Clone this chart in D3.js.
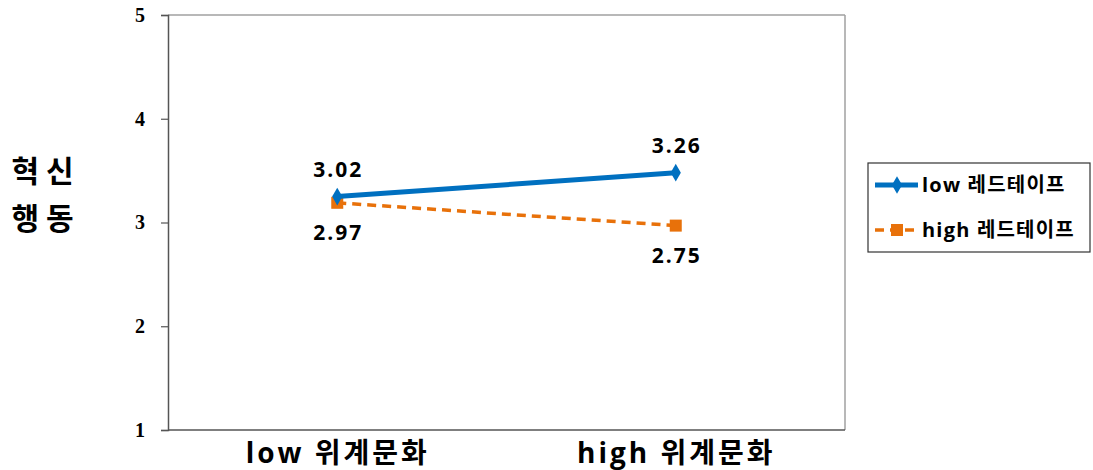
<!DOCTYPE html>
<html><head><meta charset="utf-8">
<script src="https://cdn.jsdelivr.net/npm/d3@7"></script>
<style>body{margin:0;background:#fff}</style>
</head><body><svg id="c" width="1093" height="470"></svg>
<script>
const categories = ["low 위계문화", "high 위계문화"];
const seriesNames = ["low 레드테이프", "high 레드테이프"];
const lowValues = [3.25, 3.48];
const highValues = [3.19, 2.97];
const lowLabels = ["3.02", "3.26"];
const highLabels = ["2.97", "2.75"];
const yTicks = [1, 2, 3, 4, 5];

const svg = d3.select("#c");
const L = 168, R = 845, T = 15, B = 430;
const x = d3.scalePoint().domain(categories).range([L, R]).padding(0.5);
const y = d3.scaleLinear().domain([1, 5]).range([B, T]);
const kfont = "'Open Sans', 'Noto Sans CJK KR', sans-serif";

// frame
svg.append("line").attr("x1", L).attr("x2", R).attr("y1", T).attr("y2", T).attr("stroke", "#a0a0a0").attr("stroke-width", 1.5);
svg.append("line").attr("x1", R).attr("x2", R).attr("y1", T).attr("y2", B).attr("stroke", "#a0a0a0").attr("stroke-width", 1.5);

// y axis
const ya = svg.append("g").attr("transform", `translate(${L},0)`)
  .call(d3.axisLeft(y).tickValues(yTicks).tickSize(7).tickPadding(16).tickFormat(d3.format("d")));
ya.select(".domain").attr("stroke", "#555").attr("stroke-width", 1.5);
ya.selectAll(".tick line").attr("stroke", "#555").attr("stroke-width", 1.2);
ya.selectAll("text").attr("font-family", "'Liberation Serif', serif").attr("font-weight", "bold").attr("font-size", 20).attr("fill", "#000");

// x axis
const xa = svg.append("g").attr("transform", `translate(0,${B})`)
  .call(d3.axisBottom(x).tickSize(0).tickPadding(13));
xa.select(".domain").attr("d", `M${L},0H${R}`).attr("stroke", "#555").attr("stroke-width", 1.5);
xa.selectAll("text").attr("font-family", kfont).attr("font-weight", "bold").attr("font-size", 28).attr("letter-spacing", 3).attr("fill", "#000");

// y title
[["혁신", 182], ["행동", 229]].forEach(([t, yy]) => {
  svg.append("text").attr("x", 46).attr("y", yy).attr("text-anchor", "middle").attr("font-family", kfont)
    .attr("font-weight", "bold").attr("font-size", 30).attr("letter-spacing", 7).text(t);
});

const blue = "#0070C0", orange = "#E8710A";
const line = d3.line().x((d, i) => x(categories[i])).y(d => y(d));

// orange dashed
svg.append("path").datum(highValues).attr("d", line).attr("fill", "none").attr("stroke", orange).attr("stroke-width", 3.5).attr("stroke-dasharray", "9,6");
svg.selectAll(".sq").data(highValues).enter().append("rect")
  .attr("x", (d, i) => x(categories[i]) - 6).attr("y", d => y(d) - 6).attr("width", 12).attr("height", 12).attr("fill", orange);

// blue
svg.append("path").datum(lowValues).attr("d", line).attr("fill", "none").attr("stroke", blue).attr("stroke-width", 5);
svg.selectAll(".dm").data(lowValues).enter().append("path")
  .attr("d", d3.symbol(d3.symbolDiamond, 90)).attr("transform", (d, i) => `translate(${x(categories[i])},${y(d)})`).attr("fill", blue);

// data labels
svg.selectAll(".lb").data(lowValues).enter().append("text")
  .attr("x", (d, i) => x(categories[i]) + 1).attr("y", d => y(d) - 20).attr("text-anchor", "middle")
  .attr("font-family", kfont).attr("font-weight", "bold").attr("font-size", 21).attr("letter-spacing", 2).text((d, i) => lowLabels[i]);
svg.selectAll(".hb").data(highValues).enter().append("text")
  .attr("x", (d, i) => x(categories[i]) + 1).attr("y", d => y(d) + 37).attr("text-anchor", "middle")
  .attr("font-family", kfont).attr("font-weight", "bold").attr("font-size", 21).attr("letter-spacing", 2).text((d, i) => highLabels[i]);

// legend
const lg = svg.append("g");
lg.append("rect").attr("x", 868).attr("y", 163).attr("width", 222).attr("height", 89).attr("fill", "#fff").attr("stroke", "#333").attr("stroke-width", 1.2);
const ly = [185, 230];
lg.append("line").attr("x1", 875).attr("x2", 918).attr("y1", ly[0]).attr("y2", ly[0]).attr("stroke", blue).attr("stroke-width", 5);
lg.append("path").attr("d", d3.symbol(d3.symbolDiamond, 90)).attr("transform", `translate(897,${ly[0]})`).attr("fill", blue);
lg.append("line").attr("x1", 875).attr("x2", 918).attr("y1", ly[1]).attr("y2", ly[1]).attr("stroke", orange).attr("stroke-width", 3.5).attr("stroke-dasharray", "9,6");
lg.append("rect").attr("x", 891).attr("y", ly[1] - 6).attr("width", 12).attr("height", 12).attr("fill", orange);
seriesNames.forEach((s, i) => {
  lg.append("text").attr("x", 922).attr("y", ly[i] + 7).attr("font-family", kfont).attr("font-weight", "bold")
    .attr("font-size", 20).attr("letter-spacing", 1.2).text(s);
});
</script></body></html>
